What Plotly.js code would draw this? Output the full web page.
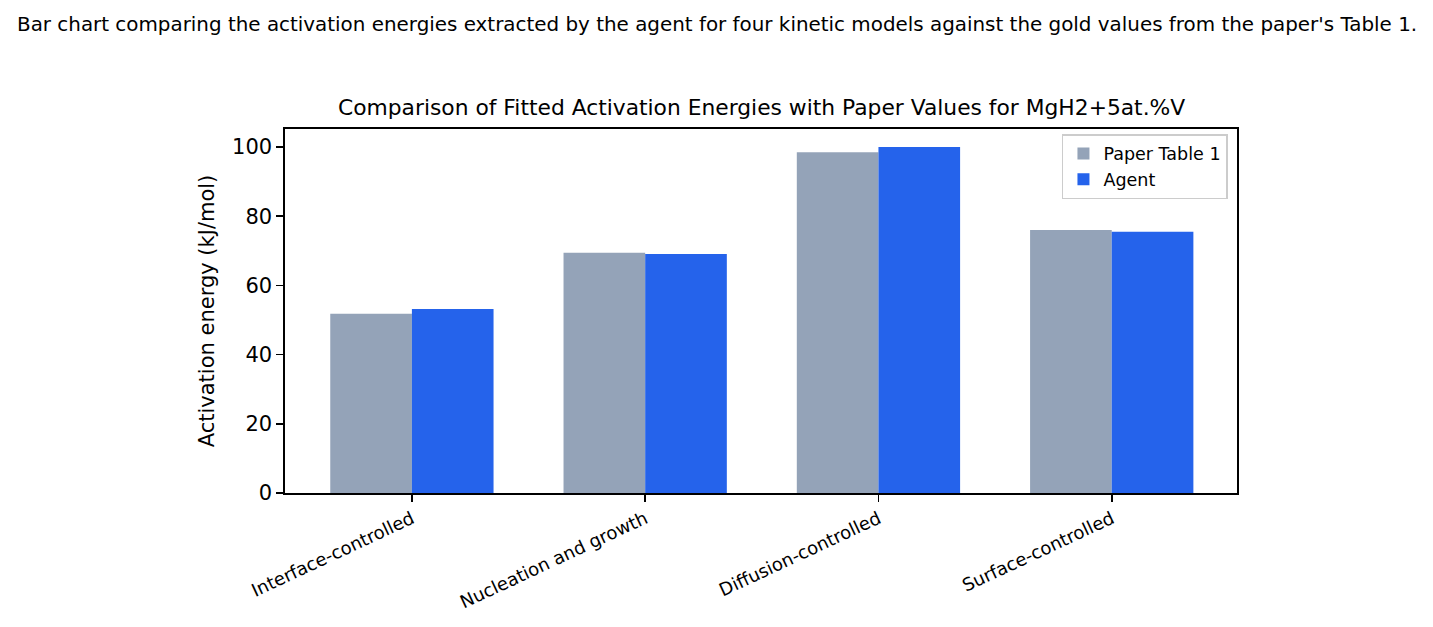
<!DOCTYPE html>
<html>
<head>
<meta charset="utf-8">
<script src="https://cdn.plot.ly/plotly-3.0.1.min.js"></script>
<style>html,body{margin:0;padding:0;background:#fff;}#chart{width:1433px;height:627px;}</style>
</head>
<body>
<div id="chart"></div>
<script>
const categories = ["Interface-controlled", "Nucleation and growth", "Diffusion-controlled", "Surface-controlled"];
const paperValues = [51.8, 69.4, 98.5, 76.0];
const agentValues = [53.2, 69.1, 100.0, 75.5];
const yTicks = [0, 20, 40, 60, 80, 100];
const seriesNames = ["Paper Table 1", "Agent"];
const captionText = "Bar chart comparing the activation energies extracted by the agent for four kinetic models against the gold values from the paper's Table 1.";
const titleText = "Comparison of Fitted Activation Energies with Paper Values for MgH2+5at.%V";

const FONT = "DejaVu Sans, sans-serif";
const xIdx = categories.map((c, i) => i);

const traces = [
  {type: "bar", name: seriesNames[0], x: xIdx, y: paperValues, marker: {color: "#94a3b8"}, offset: -0.35, width: 0.35, hoverinfo: "y"},
  {type: "bar", name: seriesNames[1], x: xIdx, y: agentValues, marker: {color: "#2563eb"}, offset: 0, width: 0.35, hoverinfo: "y"}
];

const layout = {
  width: 1433, height: 627,
  margin: {l: 285, r: 196, t: 129, b: 134},
  paper_bgcolor: "#fff", plot_bgcolor: "#fff",
  font: {family: FONT, color: "#000", size: 21},
  barmode: "overlay",
  showlegend: true,
  legend: {
    x: 0.9905, xanchor: "right", y: 0.986, yanchor: "top",
    bgcolor: "rgba(255,255,255,0.8)", bordercolor: "#cccccc", borderwidth: 1.5,
    font: {family: FONT, size: 17.5, color: "#000"},
    itemwidth: 30, tracegroupgap: 0
  },
  xaxis: {
    range: [-0.544, 3.537],
    tickmode: "array", tickvals: xIdx, ticktext: categories,
    tickangle: -25, tickfont: {family: FONT, size: 18, color: "#000"},
    ticks: "outside", ticklen: 7, tickwidth: 1.6, tickcolor: "#000",
    showline: true, linecolor: "#000", linewidth: 1.6, mirror: true,
    showgrid: false, zeroline: false
  },
  yaxis: {
    range: [0, 105.2],
    tickmode: "array", tickvals: yTicks,
    tickfont: {family: FONT, size: 21, color: "#000"},
    ticks: "outside", ticklen: 7, tickwidth: 1.6, tickcolor: "#000",
    showline: true, linecolor: "#000", linewidth: 1.6, mirror: true,
    showgrid: false, zeroline: false,
    title: {text: "Activation energy (kJ/mol)", font: {family: FONT, size: 21, color: "#000"}, standoff: 12}
  },
  annotations: [
    {text: captionText, xref: "paper", yref: "paper", x: 0.4538, y: 1.286, xanchor: "center", yanchor: "middle", showarrow: false, font: {family: FONT, size: 19.9, color: "#000"}},
    {text: titleText, xref: "paper", yref: "paper", x: 0.5, y: 1.058, xanchor: "center", yanchor: "middle", showarrow: false, font: {family: FONT, size: 21.8, color: "#000"}}
  ]
};

Plotly.newPlot("chart", traces, layout, {displayModeBar: false, staticPlot: true});
</script>
</body>
</html>
